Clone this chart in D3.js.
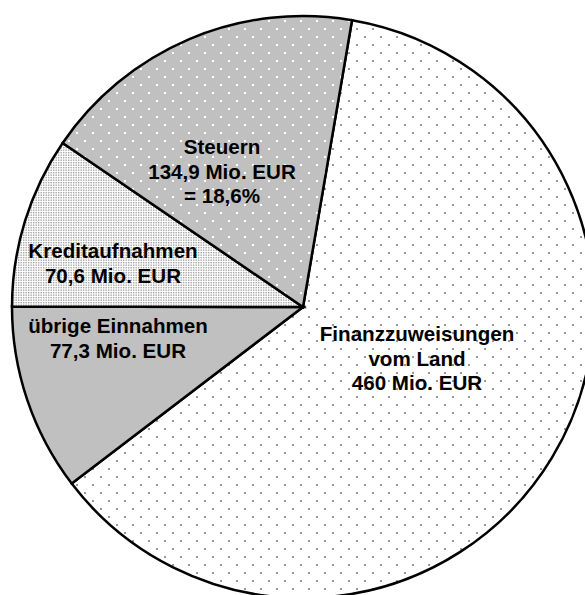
<!DOCTYPE html>
<html>
<head>
<meta charset="utf-8">
<script src="https://cdn.jsdelivr.net/npm/d3@7"></script>
<style>
  body { margin: 0; background: #fff; }
  text { font-family: "Liberation Sans", Arial, sans-serif; font-weight: bold; font-size: 20.6px; fill: #000; }
</style>
</head>
<body>
<div id="chart"></div>
<script>
// Einnahmen (Mio. EUR), clockwise from the top right
var categories = ["Finanzzuweisungen vom Land", "übrige Einnahmen", "Kreditaufnahmen", "Steuern"];
var values = [460, 77.3, 70.6, 134.9];
var labelLines = [
    ["Finanzzuweisungen", "vom Land", "460 Mio. EUR"],
    ["übrige Einnahmen", "77,3 Mio. EUR"],
    ["Kreditaufnahmen", "70,6 Mio. EUR"],
    ["Steuern", "134,9 Mio. EUR", "= 18,6%"]
];

var svgWidth = 585;
var svgHeight = 595;
var cx = 303, cy = 307, radius = 291;

// fill pattern per slice
var fills = ["url(#dotsWhite)", "#c0c0c0", "url(#fineDots)", "url(#dotsGrey)"];
// label anchor (first baseline) relative to pie centre
var labelOffset = [[114, 34], [-185, 26], [-190, -49], [-81, -153]];
var lineHeight = 24.5;

var svg = d3.select("#chart")
    .append("svg")
    .attr("width", svgWidth)
    .attr("height", svgHeight);

var defs = svg.append("defs");

// sparse staggered grey dots on white
var p1 = defs.append("pattern")
    .attr("id", "dotsWhite")
    .attr("patternUnits", "userSpaceOnUse")
    .attr("x", 5).attr("y", 9)
    .attr("width", 16).attr("height", 16);
p1.append("rect").attr("width", 16).attr("height", 16).attr("fill", "#fff");
p1.append("rect").attr("x", 0).attr("y", 0).attr("width", 2).attr("height", 2).attr("fill", "#999");
p1.append("rect").attr("x", 8).attr("y", 8).attr("width", 2).attr("height", 2).attr("fill", "#999");

// sparse white dots on grey
var p2 = defs.append("pattern")
    .attr("id", "dotsGrey")
    .attr("patternUnits", "userSpaceOnUse")
    .attr("x", 5).attr("y", 9)
    .attr("width", 16).attr("height", 16);
p2.append("rect").attr("width", 16).attr("height", 16).attr("fill", "#c0c0c0");
p2.append("rect").attr("x", 0).attr("y", 0).attr("width", 2).attr("height", 2).attr("fill", "#fff");
p2.append("rect").attr("x", 8).attr("y", 8).attr("width", 2).attr("height", 2).attr("fill", "#fff");

// fine dense dots
var p3 = defs.append("pattern")
    .attr("id", "fineDots")
    .attr("patternUnits", "userSpaceOnUse")
    .attr("width", 5).attr("height", 5);
p3.append("rect").attr("width", 5).attr("height", 5).attr("fill", "#fff");
p3.selectAll("rect.d")
    .data([[0, 0], [2.5, 0], [0, 2.5], [2.5, 2.5]])
    .enter()
    .append("rect")
    .attr("class", "d")
    .attr("x", d => d[0]).attr("y", d => d[1])
    .attr("width", 1.4).attr("height", 1.4)
    .attr("fill", "#a8a8a8");

var startAngle = 9.7 * Math.PI / 180;

var pie = d3.pie()
    .sort(null)
    .startAngle(startAngle)
    .endAngle(startAngle + 2 * Math.PI);

var arc = d3.arc()
    .innerRadius(0)
    .outerRadius(radius);

var chartGroup = svg.append("g")
    .attr("transform", `translate(${cx}, ${cy})`);

var arcs = pie(values);

chartGroup.selectAll("path.slice")
    .data(arcs)
    .enter()
    .append("path")
    .attr("class", "slice")
    .attr("d", arc)
    .attr("fill", (d, i) => fills[i])
    .attr("stroke", "#000")
    .attr("stroke-width", 2.5)
    .attr("stroke-linejoin", "miter");

// labels
var labels = chartGroup.selectAll("text.label")
    .data(arcs)
    .enter()
    .append("text")
    .attr("class", "label")
    .attr("text-anchor", "middle")
    .attr("transform", (d, i) => `translate(${labelOffset[i][0]}, ${labelOffset[i][1]})`);

labels.each(function(d, i) {
    d3.select(this).selectAll("tspan")
        .data(labelLines[i])
        .enter()
        .append("tspan")
        .attr("x", 0)
        .attr("y", (t, j) => j * lineHeight)
        .text(t => t);
});
</script>
</body>
</html>
